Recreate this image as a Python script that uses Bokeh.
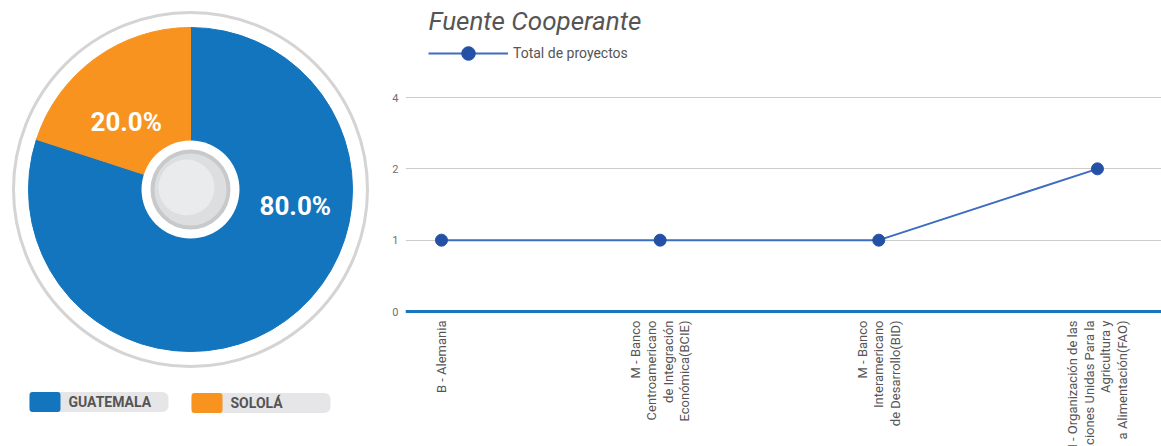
import math
from bokeh.plotting import figure
from bokeh.layouts import row
from bokeh.models import (Range1d, FixedTicker, Legend, LegendItem, ColumnDataSource,
                          LabelSet, Label, Span)
from bokeh.core.properties import value
from bokeh.embed import file_html
from bokeh.resources import INLINE

# ---------------- data ----------------
pie_categories = ["GUATEMALA", "SOLOLÁ"]
pie_values = [80.0, 20.0]
pie_colors = ["#1275BD", "#F7931E"]

sources = [
    "B - Alemania",
    "M - Banco\nCentroamericano\nde Integración\nEconómica(BCIE)",
    "M - Banco\nInteramericano\nde Desarrollo(BID)",
    "M - Organización de las\nNaciones Unidas Para la\nAgricultura y\na Alimentación(FAO)",
]
projects = [1, 1, 1, 2]
y_tick_values = [0, 1, 2, 4]
y_tick_labels = ["0", "1", "2", "4"]

FONT = "Roboto"
GRAY_TXT = "#555555"
H = 446

# ---------------- pie ----------------
p1 = figure(width=388, height=H, x_range=Range1d(0, 388), y_range=Range1d(0, H),
            output_backend="svg", toolbar_location=None, min_border=0)
p1.axis.visible = False
p1.grid.visible = False
p1.outline_line_color = None

cx, cy = 190, 257
R_RING, R_PIE, R_HOLE, R_KNOB = 177, 162, 49, 38

p1.circle(x=[cx], y=[cy], radius=R_RING, fill_color=None, line_color="#d4d4d4", line_width=3)

total = sum(pie_values)
start = math.pi / 2
for val, col in zip(pie_values, pie_colors):
    sweep = val / total * 2 * math.pi
    end = start - sweep
    p1.wedge(x=[cx], y=[cy], radius=R_PIE, start_angle=end, end_angle=start,
             fill_color=col, line_color=col)
    start = end

p1.circle(x=[cx], y=[cy], radius=R_HOLE, fill_color="white", line_color=None)
p1.circle(x=[cx], y=[cy], radius=R_KNOB, fill_color="#dcdee0", line_color="#c8c9ca", line_width=4)
p1.circle(x=[cx - 4], y=[cy + 2], radius=R_KNOB - 10, fill_color="#eceeef", line_color=None, fill_alpha=0.8)

# percentage labels (polar placement)
label_polar = [(-8.7, 106), (133.7, 93)]
for val, (ang, rr) in zip(pie_values, label_polar):
    a = math.radians(ang)
    p1.add_layout(Label(x=cx + rr * math.cos(a), y=cy + rr * math.sin(a),
                        text=f"{val / total * 100:.1f}%", text_color="white",
                        text_font=FONT, text_font_style="bold", text_font_size="26px",
                        text_align="center", text_baseline="middle"))

# legend chips
for i, (cat, col) in enumerate(zip(pie_categories, pie_colors)):
    left = 29 + 162 * i
    yc = 44.5 - i * 1.0
    p1.quad(left=[left], right=[left + 139], bottom=[yc - 10], top=[yc + 10],
            fill_color="#e6e6e8", line_color=None, border_radius=6)
    p1.quad(left=[left], right=[left + 31], bottom=[yc - 10], top=[yc + 10],
            fill_color=col, line_color=None, border_radius=3)
    p1.add_layout(Label(x=left + 39, y=yc, text=cat, text_color=GRAY_TXT,
                        text_font=FONT, text_font_style="bold", text_font_size="14px",
                        text_align="left", text_baseline="middle"))

# ---------------- line chart ----------------
xs = list(range(len(sources)))
ys_plot = [v if v > 0 else 0.5 for v in projects]
tick_pos = [v if v > 0 else 0.5 for v in y_tick_values]

PX_PER_OCT = 71.33       # pixels per doubling on the log axis
BASE_FROM_BOTTOM = 135   # pixels from the bottom of the frame to the "0" line
y_lo = 0.5 * 2 ** (-BASE_FROM_BOTTOM / PX_PER_OCT)
y_hi = 0.5 * 2 ** ((H - BASE_FROM_BOTTOM) / PX_PER_OCT)

p2 = figure(width=773, height=H, y_axis_type="log",
            x_range=Range1d(-0.1646, 3.293), y_range=Range1d(y_lo, y_hi),
            output_backend="svg", toolbar_location=None,
            min_border_left=17, min_border_right=0, min_border_top=0, min_border_bottom=0)
p2.outline_line_color = None
p2.xaxis.visible = False
p2.xgrid.visible = False
p2.ygrid.ticker = FixedTicker(ticks=tick_pos)
p2.ygrid.grid_line_color = "#cccccc"
p2.ygrid.grid_line_width = 1

p2.yaxis.ticker = FixedTicker(ticks=tick_pos)
p2.yaxis.major_label_overrides = {t: l for t, l in zip(tick_pos, y_tick_labels)}
p2.yaxis.axis_line_color = None
p2.yaxis.major_tick_line_color = None
p2.yaxis.minor_tick_line_color = None
p2.yaxis.major_tick_out = 0
p2.yaxis.major_tick_in = 0
p2.yaxis.minor_tick_out = 0
p2.yaxis.major_label_text_font = FONT
p2.yaxis.major_label_text_font_size = "11px"
p2.yaxis.major_label_text_color = "#707070"
p2.yaxis.major_label_standoff = 7

# baseline ("0" line)
p2.add_layout(Span(location=tick_pos[0], dimension="width", line_color="#1B75BC", line_width=3))

src = ColumnDataSource(dict(x=xs, y=ys_plot))
ln = p2.line("x", "y", source=src, line_color="#3D6DC0", line_width=2)
pt = p2.scatter("x", "y", source=src, size=12, fill_color="#2450A5", line_color="#2450A5")

# category labels: one entry per text line, right-aligned next to the axis
LINE_STEP = 16.5
lx, lxo, ltext = [], [], []
for i, name in enumerate(sources):
    lines = name.split("\n")
    n = len(lines)
    for j, t in enumerate(lines):
        lx.append(xs[i])
        lxo.append((j - (n - 1) / 2) * LINE_STEP)
        ltext.append(t)
lsrc = ColumnDataSource(dict(x=lx, xo=lxo, y=[tick_pos[0]] * len(lx), text=ltext))
p2.add_layout(LabelSet(x="x", y="y", text="text", source=lsrc, angle=math.pi / 2,
                       x_offset="xo", y_offset=-9, text_align="right", text_baseline="middle",
                       text_font=value(FONT), text_font_size=value("13px"), text_color=GRAY_TXT))

# title
p2.add_layout(Label(x=23, y=H - 20, x_units="screen", y_units="screen",
                    text="Fuente Cooperante", text_font=FONT, text_font_style="italic",
                    text_font_size="26px", text_color=GRAY_TXT,
                    text_align="left", text_baseline="middle"))

legend = Legend(items=[LegendItem(label="Total de proyectos", renderers=[ln, pt])],
                location=(23, H - 53 - 17), glyph_width=80, glyph_height=34, padding=0, margin=0,
                label_text_font=FONT, label_text_font_size="14px", label_text_color=GRAY_TXT,
                label_standoff=5, border_line_color=None, background_fill_alpha=0)
p2.add_layout(legend)

layout = row(p1, p2)
open("out.html", "w").write(file_html(layout, INLINE))
